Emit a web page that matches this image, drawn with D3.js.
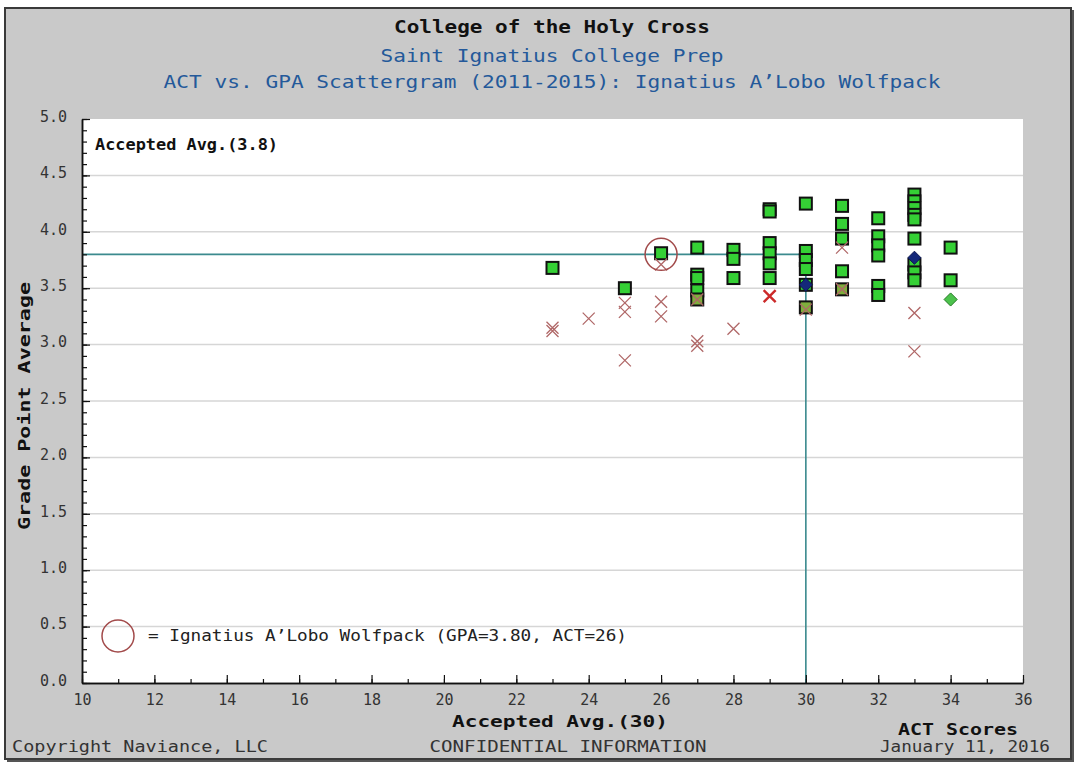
<!DOCTYPE html>
<html>
<head>
<meta charset="utf-8">
<script src="https://cdn.jsdelivr.net/npm/d3@7"></script>
<style>
  body { margin: 0; background: #fff; }
  text { font-family: "DejaVu Sans Mono", "Liberation Mono", monospace; }
</style>
</head>
<body>
<script>
var accepted = [
  [23, 3.68],
  [25, 3.50],
  [26, 3.81],
  [27, 3.86], [27, 3.62], [27, 3.59], [27, 3.48], [27, 3.40],
  [28, 3.84], [28, 3.76], [28, 3.59],
  [29, 4.20], [29, 4.18], [29, 3.90], [29, 3.81], [29, 3.72], [29, 3.59],
  [30, 4.25], [30, 3.83], [30, 3.75], [30, 3.67], [30, 3.53], [30, 3.33],
  [31, 4.23], [31, 4.07], [31, 3.94], [31, 3.65], [31, 3.49],
  [32, 4.12], [32, 3.96], [32, 3.88], [32, 3.79], [32, 3.52], [32, 3.44],
  [33, 4.33], [33, 4.27], [33, 4.21], [33, 4.15], [33, 4.11], [33, 3.94], [33, 3.71], [33, 3.64], [33, 3.57],
  [34, 3.86], [34, 3.57]
];
var denied = [
  [23, 3.15], [23, 3.12],
  [24, 3.23],
  [25, 3.37], [25, 3.29], [25, 2.86],
  [26, 3.71], [26, 3.38], [26, 3.25],
  [27, 3.40], [27, 3.03], [27, 2.99],
  [28, 3.14],
  [30, 3.31],
  [31, 3.86], [31, 3.49],
  [33, 3.28], [33, 2.94]
];
var deniedBold = [[29, 3.43]];
var navyDiamonds = [[30, 3.53], [33, 3.77]];
var greenDiamonds = [[34, 3.40]];

var student = { act: 26, gpa: 3.80, name: "Ignatius A\u2019Lobo Wolfpack" };
var acceptedAvg = { act: 30, gpa: 3.8 };

var xTicksMajor = [10, 12, 14, 16, 18, 20, 22, 24, 26, 28, 30, 32, 34, 36];
var yTicksMajor = [0, 0.5, 1, 1.5, 2, 2.5, 3, 3.5, 4, 4.5, 5];

var W = 1081, H = 765;
var svg = d3.select("body").append("svg")
  .attr("width", W).attr("height", H);

// marco gris
svg.append("rect").attr("x", 7).attr("y", 10).attr("width", 1067).attr("height", 752)
  .attr("fill", "#555");
svg.append("rect").attr("x", 5).attr("y", 8).attr("width", 1066).attr("height", 751)
  .attr("fill", "#c9c9c9").attr("stroke", "#3a3a3a").attr("stroke-width", 2);

var x = d3.scaleLinear().domain([10, 36]).range([82, 1023]);
var y = d3.scaleLinear().domain([0, 5]).range([683, 119]);

// area del grafico
svg.append("rect")
  .attr("x", x(10)).attr("y", y(5))
  .attr("width", x(36) - x(10)).attr("height", y(0) - y(5))
  .attr("fill", "#fff");

// lineas de rejilla
svg.append("g").selectAll("line")
  .data(yTicksMajor.filter(function(d){ return d > 0 && d < 5; }))
  .enter().append("line")
  .attr("x1", x(10)).attr("x2", x(36))
  .attr("y1", function(d){ return y(d); }).attr("y2", function(d){ return y(d); })
  .attr("stroke", "#d6d6d6").attr("stroke-width", 1.5);

// titulos
svg.append("text").attr("x", 552).attr("y", 33).attr("text-anchor", "middle")
  .attr("font-size", 17).attr("font-weight", "bold").attr("fill", "#111")
  .attr("textLength", 316).attr("lengthAdjust", "spacingAndGlyphs")
  .text("College of the Holy Cross");
svg.append("text").attr("x", 552).attr("y", 62).attr("text-anchor", "middle")
  .attr("font-size", 17).attr("fill", "#24599a")
  .attr("textLength", 343).attr("lengthAdjust", "spacingAndGlyphs")
  .text("Saint Ignatius College Prep");
svg.append("text").attr("x", 552).attr("y", 88).attr("text-anchor", "middle")
  .attr("font-size", 17).attr("fill", "#24599a")
  .attr("textLength", 777).attr("lengthAdjust", "spacingAndGlyphs")
  .text("ACT vs. GPA Scattergram (2011-2015): " + student.name);

// linea de promedio aceptado
svg.append("path")
  .attr("d", "M" + x(10) + "," + y(acceptedAvg.gpa) + "H" + x(acceptedAvg.act) + "V" + y(0))
  .attr("fill", "none").attr("stroke", "#3b8a8e").attr("stroke-width", 1.6);

svg.append("text").attr("x", 95).attr("y", 150)
  .attr("font-size", 15).attr("font-weight", "bold").attr("fill", "#111")
  .attr("textLength", 183).attr("lengthAdjust", "spacingAndGlyphs")
  .text("Accepted Avg.(" + acceptedAvg.gpa.toFixed(1) + ")");

// ejes
var xAxisMinor = d3.axisBottom(x).tickValues(d3.range(10, 37, 1)).tickSizeInner(-4).tickSizeOuter(0).tickFormat("");
var xAxis = d3.axisBottom(x).tickValues(xTicksMajor).tickSizeInner(-8).tickSizeOuter(0).tickPadding(11);
var yAxisMinor = d3.axisLeft(y).tickValues(d3.range(0, 51, 1).map(function(d){ return d / 10; })).tickSizeInner(-5).tickSizeOuter(0).tickFormat("");
var yAxis = d3.axisLeft(y).tickValues(yTicksMajor).tickSizeInner(-8).tickSizeOuter(0).tickPadding(15).tickFormat(d3.format(".1f"));

[xAxisMinor, xAxis].forEach(function(a){
  svg.append("g").attr("class", "axis").attr("transform", "translate(0," + y(0) + ")").call(a);
});
[yAxisMinor, yAxis].forEach(function(a){
  svg.append("g").attr("class", "axis").attr("transform", "translate(" + x(10) + ",0)").call(a);
});
svg.selectAll(".axis path").attr("stroke", "#111").attr("stroke-width", 1.5);
svg.selectAll(".axis line").attr("stroke", "#111").attr("stroke-width", 1.2);
svg.selectAll(".axis text").attr("font-family", "DejaVu Sans Mono, monospace")
  .attr("font-size", 15).attr("fill", "#333");
svg.selectAll(".axis text").filter(function(){ return d3.select(this.parentNode.parentNode).attr("transform").indexOf("translate(" + x(10)) === 0; })
  .attr("dy", "0.15em");

// titulos de ejes
svg.append("text")
  .attr("transform", "translate(30,406) rotate(-90)")
  .attr("text-anchor", "middle").attr("font-size", 16).attr("font-weight", "bold").attr("fill", "#111")
  .attr("textLength", 248).attr("lengthAdjust", "spacingAndGlyphs")
  .text("Grade Point Average");
svg.append("text").attr("x", 560).attr("y", 727).attr("text-anchor", "middle")
  .attr("font-size", 16).attr("font-weight", "bold").attr("fill", "#111")
  .attr("textLength", 216).attr("lengthAdjust", "spacingAndGlyphs")
  .text("Accepted Avg.(" + acceptedAvg.act + ")");
svg.append("text").attr("x", 958).attr("y", 735).attr("text-anchor", "middle")
  .attr("font-size", 16).attr("font-weight", "bold").attr("fill", "#111")
  .attr("textLength", 120).attr("lengthAdjust", "spacingAndGlyphs")
  .text("ACT Scores");

// pie
svg.append("text").attr("x", 12).attr("y", 752)
  .attr("font-size", 15).attr("fill", "#333")
  .attr("textLength", 256).attr("lengthAdjust", "spacingAndGlyphs")
  .text("Copyright Naviance, LLC");
svg.append("text").attr("x", 568).attr("y", 752).attr("text-anchor", "middle")
  .attr("font-size", 15).attr("fill", "#333")
  .attr("textLength", 277).attr("lengthAdjust", "spacingAndGlyphs")
  .text("CONFIDENTIAL INFORMATION");
svg.append("text").attr("x", 1050).attr("y", 752).attr("text-anchor", "end")
  .attr("font-size", 15).attr("fill", "#333")
  .attr("textLength", 170).attr("lengthAdjust", "spacingAndGlyphs")
  .text("January 11, 2016");

// marcadores
var s = 6;
var plot = svg.append("g");

function overlaps(d) {
  return denied.some(function(e){ return e[0] === d[0] && Math.abs(e[1] - d[1]) < 0.03; });
}

plot.selectAll("rect.acc").data(accepted).enter().append("rect")
  .attr("class", "acc")
  .attr("x", function(d){ return x(d[0]) - s; })
  .attr("y", function(d){ return y(d[1]) - s; })
  .attr("width", 2 * s).attr("height", 2 * s)
  .attr("fill", function(d){ return overlaps(d) ? "#7fae3c" : "#35d035"; })
  .attr("stroke", "#111").attr("stroke-width", 2);

function xPath(d, r) {
  var cx = x(d[0]), cy = y(d[1]);
  return "M" + (cx - r) + "," + (cy - r) + "L" + (cx + r) + "," + (cy + r) +
         "M" + (cx - r) + "," + (cy + r) + "L" + (cx + r) + "," + (cy - r);
}

plot.selectAll("path.den").data(denied).enter().append("path")
  .attr("class", "den")
  .attr("d", function(d){ return xPath(d, 6); })
  .attr("stroke", "#b06868").attr("stroke-width", 1.3).attr("fill", "none");

plot.selectAll("path.denb").data(deniedBold).enter().append("path")
  .attr("class", "denb")
  .attr("d", function(d){ return xPath(d, 6); })
  .attr("stroke", "#cc2a2a").attr("stroke-width", 2.4).attr("fill", "none");

var diamond = d3.symbol().type(d3.symbolDiamond2 || d3.symbolDiamond).size(110);
plot.selectAll("path.navy").data(navyDiamonds).enter().append("path")
  .attr("class", "navy")
  .attr("transform", function(d){ return "translate(" + x(d[0]) + "," + y(d[1]) + ")"; })
  .attr("d", diamond)
  .attr("fill", "#14287a").attr("stroke", "#0b1550").attr("stroke-width", 1);

plot.selectAll("path.gdia").data(greenDiamonds).enter().append("path")
  .attr("class", "gdia")
  .attr("transform", function(d){ return "translate(" + x(d[0]) + "," + y(d[1]) + ")"; })
  .attr("d", diamond)
  .attr("fill", "#4cc24c").attr("stroke", "#237a23").attr("stroke-width", 1);

// circulo del estudiante
svg.append("circle")
  .attr("cx", x(student.act)).attr("cy", y(student.gpa)).attr("r", 16)
  .attr("fill", "none").attr("stroke", "#a24a4a").attr("stroke-width", 1.5);

// leyenda
svg.append("circle").attr("cx", 118).attr("cy", 636).attr("r", 16)
  .attr("fill", "none").attr("stroke", "#a24a4a").attr("stroke-width", 1.5);
svg.append("text").attr("x", 148).attr("y", 641)
  .attr("font-size", 15).attr("fill", "#222")
  .attr("textLength", 479).attr("lengthAdjust", "spacingAndGlyphs")
  .text("= " + student.name + " (GPA=" + student.gpa.toFixed(2) + ", ACT=" + student.act + ")");
</script>
</body>
</html>
